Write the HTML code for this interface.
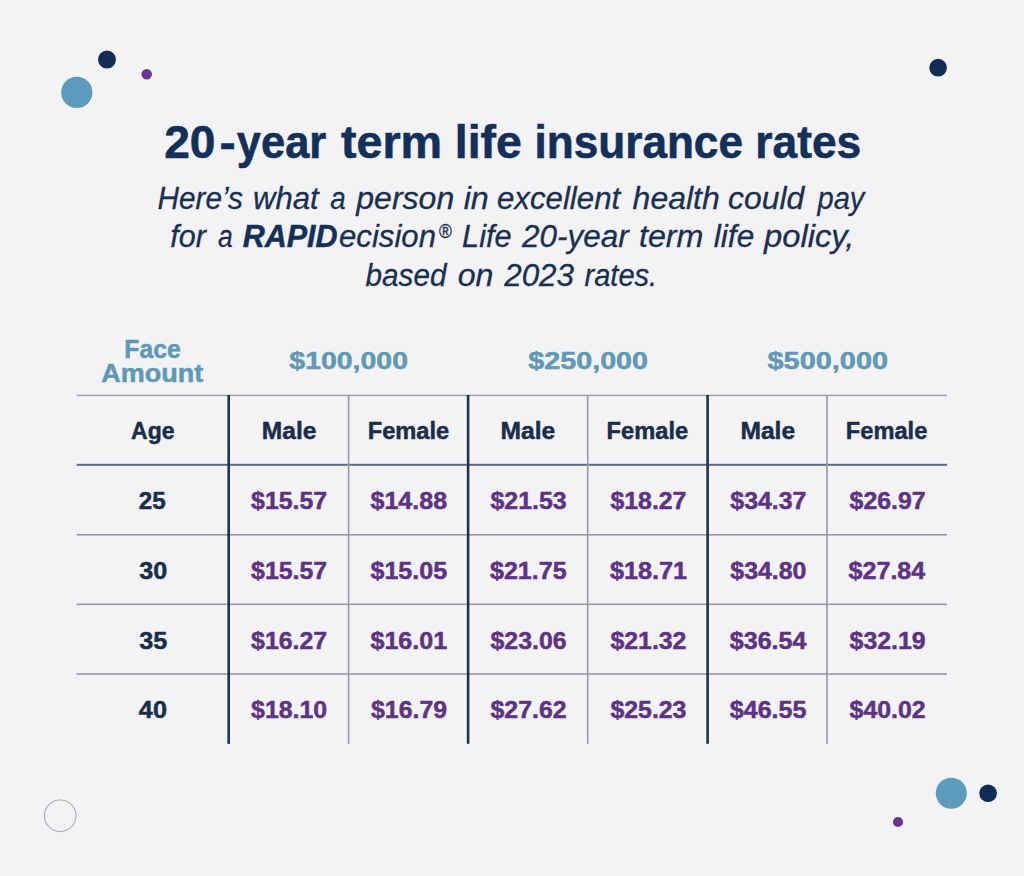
<!DOCTYPE html>
<html>
<head>
<meta charset="utf-8">
<title>20-year term life insurance rates</title>
<style>
html,body{margin:0;padding:0;background:#f3f3f6;}
body{width:1024px;height:876px;overflow:hidden;}
svg{display:block;}
text{font-family:"Liberation Sans",sans-serif;white-space:pre;}
</style>
</head>
<body>
<svg width="1024" height="876" viewBox="0 0 1024 876">
<rect x="0" y="0" width="1024" height="876" fill="#f3f3f6"/>
<circle cx="107" cy="59.6" r="9" fill="#102d58"/>
<circle cx="76.8" cy="92.4" r="15.6" fill="#5c9bbb"/>
<circle cx="146.7" cy="74.2" r="5.3" fill="#6a3794"/>
<circle cx="938.1" cy="67.7" r="8.85" fill="#102d58"/>
<circle cx="951.3" cy="793.3" r="15.5" fill="#5c9bbb"/>
<circle cx="988.1" cy="793.3" r="8.8" fill="#102d58"/>
<circle cx="898" cy="822" r="5.1" fill="#6a3794"/>
<circle cx="60.2" cy="815.8" r="15.8" fill="none" stroke="#a9acb0" stroke-width="1.1"/>
<rect x="76.7" y="394.7" width="870.3" height="1.4" fill="#9a9ea6"/>
<rect x="76.7" y="463.8" width="870.3" height="2" fill="#5f6b7a"/>
<rect x="76.7" y="534" width="870.3" height="1.6" fill="#959ba4"/>
<rect x="76.7" y="603.5" width="870.3" height="1.6" fill="#959ba4"/>
<rect x="76.7" y="673.2" width="870.3" height="1.6" fill="#959ba4"/>
<rect x="347.8" y="395" width="1.6" height="348.8" fill="#959ba4"/>
<rect x="586.9" y="395" width="1.6" height="348.8" fill="#959ba4"/>
<rect x="826.2" y="395" width="1.6" height="348.8" fill="#959ba4"/>
<rect x="227.4" y="395" width="2.6" height="348.8" fill="#1e3150"/>
<rect x="466.8" y="395" width="2.6" height="348.8" fill="#1e3150"/>
<rect x="706.3" y="395" width="2.6" height="348.8" fill="#1e3150"/>

<text x="164.17" y="157.90" font-size="45.5" fill="#13305a" font-weight="bold" stroke="#13305a" stroke-width="0.6" stroke-linejoin="round" textLength="51.25" lengthAdjust="spacingAndGlyphs">20</text>
<text x="219.53" y="157.90" font-size="45.5" fill="#13305a" font-weight="bold" stroke="#13305a" stroke-width="0.6" stroke-linejoin="round" textLength="16.21" lengthAdjust="spacingAndGlyphs">-</text>
<text x="236.80" y="157.90" font-size="45.5" fill="#13305a" font-weight="bold" stroke="#13305a" stroke-width="0.6" stroke-linejoin="round" textLength="89.44" lengthAdjust="spacingAndGlyphs">year</text>
<text x="340.90" y="157.90" font-size="45.5" fill="#13305a" font-weight="bold" stroke="#13305a" stroke-width="0.6" stroke-linejoin="round" textLength="101.27" lengthAdjust="spacingAndGlyphs">term</text>
<text x="454.83" y="157.90" font-size="45.5" fill="#13305a" font-weight="bold" stroke="#13305a" stroke-width="0.6" stroke-linejoin="round" textLength="67.02" lengthAdjust="spacingAndGlyphs">life</text>
<text x="534.56" y="157.90" font-size="45.5" fill="#13305a" font-weight="bold" stroke="#13305a" stroke-width="0.6" stroke-linejoin="round" textLength="208.39" lengthAdjust="spacingAndGlyphs">insurance</text>
<text x="755.36" y="157.90" font-size="45.5" fill="#13305a" font-weight="bold" stroke="#13305a" stroke-width="0.6" stroke-linejoin="round" textLength="105.91" lengthAdjust="spacingAndGlyphs">rates</text>
<text x="157.40" y="208.70" font-size="31" fill="#1b2f52" font-style="italic" stroke="#1b2f52" stroke-width="0.3" stroke-linejoin="round" textLength="85.53" lengthAdjust="spacingAndGlyphs">Here’s</text>
<text x="252.98" y="208.70" font-size="31" fill="#1b2f52" font-style="italic" stroke="#1b2f52" stroke-width="0.3" stroke-linejoin="round" textLength="65.69" lengthAdjust="spacingAndGlyphs">what</text>
<text x="330.20" y="208.70" font-size="31" fill="#1b2f52" font-style="italic" stroke="#1b2f52" stroke-width="0.3" stroke-linejoin="round" textLength="15.45" lengthAdjust="spacingAndGlyphs">a</text>
<text x="356.25" y="208.70" font-size="31" fill="#1b2f52" font-style="italic" stroke="#1b2f52" stroke-width="0.3" stroke-linejoin="round" textLength="97.96" lengthAdjust="spacingAndGlyphs">person</text>
<text x="463.70" y="208.70" font-size="31" fill="#1b2f52" font-style="italic" stroke="#1b2f52" stroke-width="0.3" stroke-linejoin="round" textLength="25.10" lengthAdjust="spacingAndGlyphs">in</text>
<text x="496.90" y="208.70" font-size="31" fill="#1b2f52" font-style="italic" stroke="#1b2f52" stroke-width="0.3" stroke-linejoin="round" textLength="123.35" lengthAdjust="spacingAndGlyphs">excellent</text>
<text x="632.60" y="208.70" font-size="31" fill="#1b2f52" font-style="italic" stroke="#1b2f52" stroke-width="0.3" stroke-linejoin="round" textLength="87.18" lengthAdjust="spacingAndGlyphs">health</text>
<text x="728.10" y="208.70" font-size="31" fill="#1b2f52" font-style="italic" stroke="#1b2f52" stroke-width="0.3" stroke-linejoin="round" textLength="76.27" lengthAdjust="spacingAndGlyphs">could</text>
<text x="817.47" y="208.70" font-size="31" fill="#1b2f52" font-style="italic" stroke="#1b2f52" stroke-width="0.3" stroke-linejoin="round" textLength="46.84" lengthAdjust="spacingAndGlyphs">pay</text>
<text x="170.20" y="247.00" font-size="31" fill="#1b2f52" font-style="italic" stroke="#1b2f52" stroke-width="0.3" stroke-linejoin="round" textLength="35.71" lengthAdjust="spacingAndGlyphs">for</text>
<text x="218.00" y="247.00" font-size="31" fill="#1b2f52" font-style="italic" stroke="#1b2f52" stroke-width="0.3" stroke-linejoin="round" textLength="14.71" lengthAdjust="spacingAndGlyphs">a</text>
<text x="462.10" y="247.00" font-size="31" fill="#1b2f52" font-style="italic" stroke="#1b2f52" stroke-width="0.3" stroke-linejoin="round" textLength="49.48" lengthAdjust="spacingAndGlyphs">Life</text>
<text x="522.01" y="247.00" font-size="31" fill="#1b2f52" font-style="italic" stroke="#1b2f52" stroke-width="0.3" stroke-linejoin="round" textLength="106.68" lengthAdjust="spacingAndGlyphs">20-year</text>
<text x="638.96" y="247.00" font-size="31" fill="#1b2f52" font-style="italic" stroke="#1b2f52" stroke-width="0.3" stroke-linejoin="round" textLength="64.54" lengthAdjust="spacingAndGlyphs">term</text>
<text x="713.80" y="247.00" font-size="31" fill="#1b2f52" font-style="italic" stroke="#1b2f52" stroke-width="0.3" stroke-linejoin="round" textLength="40.45" lengthAdjust="spacingAndGlyphs">life</text>
<text x="763.98" y="247.00" font-size="31" fill="#1b2f52" font-style="italic" stroke="#1b2f52" stroke-width="0.3" stroke-linejoin="round" textLength="90.42" lengthAdjust="spacingAndGlyphs">policy,</text>
<text x="242.70" y="247.00" font-size="31" fill="#13305a" font-weight="bold" font-style="italic" stroke="#13305a" stroke-width="0.5" stroke-linejoin="round" textLength="94.86" lengthAdjust="spacingAndGlyphs">RAPID</text>
<text x="339.00" y="247.00" font-size="31" fill="#1b2f52" font-style="italic" stroke="#1b2f52" stroke-width="0.3" stroke-linejoin="round" textLength="97.00" lengthAdjust="spacingAndGlyphs">ecision</text>
<text x="439.07" y="237.60" font-size="20" fill="#1b2f52" stroke="#1b2f52" stroke-width="0.35" stroke-linejoin="round" textLength="12.81" lengthAdjust="spacingAndGlyphs">®</text>
<text x="365.50" y="286.00" font-size="31" fill="#1b2f52" font-style="italic" stroke="#1b2f52" stroke-width="0.3" stroke-linejoin="round" textLength="81.03" lengthAdjust="spacingAndGlyphs">based</text>
<text x="457.70" y="286.00" font-size="31" fill="#1b2f52" font-style="italic" stroke="#1b2f52" stroke-width="0.3" stroke-linejoin="round" textLength="35.80" lengthAdjust="spacingAndGlyphs">on</text>
<text x="504.21" y="286.00" font-size="31" fill="#1b2f52" font-style="italic" stroke="#1b2f52" stroke-width="0.3" stroke-linejoin="round" textLength="69.84" lengthAdjust="spacingAndGlyphs">2023</text>
<text x="584.50" y="286.00" font-size="31" fill="#1b2f52" font-style="italic" stroke="#1b2f52" stroke-width="0.3" stroke-linejoin="round" textLength="72.67" lengthAdjust="spacingAndGlyphs">rates.</text>
<text x="124.30" y="358.40" font-size="25" fill="#5f99b6" font-weight="bold" stroke="#5f99b6" stroke-width="0.5" stroke-linejoin="round" textLength="56.39" lengthAdjust="spacingAndGlyphs">Face</text>
<text x="101.25" y="381.60" font-size="25" fill="#5f99b6" font-weight="bold" stroke="#5f99b6" stroke-width="0.5" stroke-linejoin="round" textLength="101.88" lengthAdjust="spacingAndGlyphs">Amount</text>
<text x="289.30" y="369.40" font-size="24" fill="#5f99b6" font-weight="bold" stroke="#5f99b6" stroke-width="0.5" stroke-linejoin="round" textLength="118.73" lengthAdjust="spacingAndGlyphs">$100,000</text>
<text x="528.30" y="369.40" font-size="24" fill="#5f99b6" font-weight="bold" stroke="#5f99b6" stroke-width="0.5" stroke-linejoin="round" textLength="119.73" lengthAdjust="spacingAndGlyphs">$250,000</text>
<text x="767.50" y="369.40" font-size="24" fill="#5f99b6" font-weight="bold" stroke="#5f99b6" stroke-width="0.5" stroke-linejoin="round" textLength="120.54" lengthAdjust="spacingAndGlyphs">$500,000</text>
<text x="131.10" y="438.90" font-size="24" fill="#1a2e4c" font-weight="bold" stroke="#1a2e4c" stroke-width="0.5" stroke-linejoin="round" textLength="43.37" lengthAdjust="spacingAndGlyphs">Age</text>
<text x="261.73" y="438.80" font-size="24" fill="#1a2e4c" font-weight="bold" stroke="#1a2e4c" stroke-width="0.5" stroke-linejoin="round" textLength="54.67" lengthAdjust="spacingAndGlyphs">Male</text>
<text x="367.71" y="438.80" font-size="24" fill="#1a2e4c" font-weight="bold" stroke="#1a2e4c" stroke-width="0.5" stroke-linejoin="round" textLength="81.51" lengthAdjust="spacingAndGlyphs">Female</text>
<text x="500.63" y="438.80" font-size="24" fill="#1a2e4c" font-weight="bold" stroke="#1a2e4c" stroke-width="0.5" stroke-linejoin="round" textLength="54.67" lengthAdjust="spacingAndGlyphs">Male</text>
<text x="606.61" y="438.80" font-size="24" fill="#1a2e4c" font-weight="bold" stroke="#1a2e4c" stroke-width="0.5" stroke-linejoin="round" textLength="81.51" lengthAdjust="spacingAndGlyphs">Female</text>
<text x="740.43" y="438.80" font-size="24" fill="#1a2e4c" font-weight="bold" stroke="#1a2e4c" stroke-width="0.5" stroke-linejoin="round" textLength="54.67" lengthAdjust="spacingAndGlyphs">Male</text>
<text x="845.81" y="438.80" font-size="24" fill="#1a2e4c" font-weight="bold" stroke="#1a2e4c" stroke-width="0.5" stroke-linejoin="round" textLength="81.51" lengthAdjust="spacingAndGlyphs">Female</text>
<text x="138.86" y="509.30" font-size="24" fill="#1a2e4c" font-weight="bold" stroke="#1a2e4c" stroke-width="0.5" stroke-linejoin="round" textLength="26.89" lengthAdjust="spacingAndGlyphs">25</text>
<text x="251.14" y="509.30" font-size="24" fill="#5f3384" font-weight="bold" stroke="#5f3384" stroke-width="0.5" stroke-linejoin="round" textLength="75.98" lengthAdjust="spacingAndGlyphs">$15.57</text>
<text x="370.52" y="509.30" font-size="24" fill="#5f3384" font-weight="bold" stroke="#5f3384" stroke-width="0.5" stroke-linejoin="round" textLength="76.59" lengthAdjust="spacingAndGlyphs">$14.88</text>
<text x="490.54" y="509.30" font-size="24" fill="#5f3384" font-weight="bold" stroke="#5f3384" stroke-width="0.5" stroke-linejoin="round" textLength="75.98" lengthAdjust="spacingAndGlyphs">$21.53</text>
<text x="610.44" y="509.30" font-size="24" fill="#5f3384" font-weight="bold" stroke="#5f3384" stroke-width="0.5" stroke-linejoin="round" textLength="75.98" lengthAdjust="spacingAndGlyphs">$18.27</text>
<text x="730.34" y="509.30" font-size="24" fill="#5f3384" font-weight="bold" stroke="#5f3384" stroke-width="0.5" stroke-linejoin="round" textLength="75.98" lengthAdjust="spacingAndGlyphs">$34.37</text>
<text x="849.64" y="509.30" font-size="24" fill="#5f3384" font-weight="bold" stroke="#5f3384" stroke-width="0.5" stroke-linejoin="round" textLength="75.98" lengthAdjust="spacingAndGlyphs">$26.97</text>
<text x="139.36" y="578.97" font-size="24" fill="#1a2e4c" font-weight="bold" stroke="#1a2e4c" stroke-width="0.5" stroke-linejoin="round" textLength="27.97" lengthAdjust="spacingAndGlyphs">30</text>
<text x="251.14" y="578.97" font-size="24" fill="#5f3384" font-weight="bold" stroke="#5f3384" stroke-width="0.5" stroke-linejoin="round" textLength="75.98" lengthAdjust="spacingAndGlyphs">$15.57</text>
<text x="370.52" y="578.97" font-size="24" fill="#5f3384" font-weight="bold" stroke="#5f3384" stroke-width="0.5" stroke-linejoin="round" textLength="76.59" lengthAdjust="spacingAndGlyphs">$15.05</text>
<text x="490.02" y="578.97" font-size="24" fill="#5f3384" font-weight="bold" stroke="#5f3384" stroke-width="0.5" stroke-linejoin="round" textLength="76.59" lengthAdjust="spacingAndGlyphs">$21.75</text>
<text x="609.92" y="578.97" font-size="24" fill="#5f3384" font-weight="bold" stroke="#5f3384" stroke-width="0.5" stroke-linejoin="round" textLength="77.21" lengthAdjust="spacingAndGlyphs">$18.71</text>
<text x="730.34" y="578.97" font-size="24" fill="#5f3384" font-weight="bold" stroke="#5f3384" stroke-width="0.5" stroke-linejoin="round" textLength="75.98" lengthAdjust="spacingAndGlyphs">$34.80</text>
<text x="848.62" y="578.97" font-size="24" fill="#5f3384" font-weight="bold" stroke="#5f3384" stroke-width="0.5" stroke-linejoin="round" textLength="76.59" lengthAdjust="spacingAndGlyphs">$27.84</text>
<text x="139.36" y="648.64" font-size="24" fill="#1a2e4c" font-weight="bold" stroke="#1a2e4c" stroke-width="0.5" stroke-linejoin="round" textLength="27.97" lengthAdjust="spacingAndGlyphs">35</text>
<text x="251.14" y="648.64" font-size="24" fill="#5f3384" font-weight="bold" stroke="#5f3384" stroke-width="0.5" stroke-linejoin="round" textLength="75.98" lengthAdjust="spacingAndGlyphs">$16.27</text>
<text x="370.52" y="648.64" font-size="24" fill="#5f3384" font-weight="bold" stroke="#5f3384" stroke-width="0.5" stroke-linejoin="round" textLength="76.59" lengthAdjust="spacingAndGlyphs">$16.01</text>
<text x="490.54" y="648.64" font-size="24" fill="#5f3384" font-weight="bold" stroke="#5f3384" stroke-width="0.5" stroke-linejoin="round" textLength="75.98" lengthAdjust="spacingAndGlyphs">$23.06</text>
<text x="610.44" y="648.64" font-size="24" fill="#5f3384" font-weight="bold" stroke="#5f3384" stroke-width="0.5" stroke-linejoin="round" textLength="75.98" lengthAdjust="spacingAndGlyphs">$21.32</text>
<text x="729.82" y="648.64" font-size="24" fill="#5f3384" font-weight="bold" stroke="#5f3384" stroke-width="0.5" stroke-linejoin="round" textLength="76.59" lengthAdjust="spacingAndGlyphs">$36.54</text>
<text x="849.64" y="648.64" font-size="24" fill="#5f3384" font-weight="bold" stroke="#5f3384" stroke-width="0.5" stroke-linejoin="round" textLength="75.98" lengthAdjust="spacingAndGlyphs">$32.19</text>
<text x="138.88" y="718.31" font-size="24" fill="#1a2e4c" font-weight="bold" stroke="#1a2e4c" stroke-width="0.5" stroke-linejoin="round" textLength="28.03" lengthAdjust="spacingAndGlyphs">40</text>
<text x="251.14" y="718.31" font-size="24" fill="#5f3384" font-weight="bold" stroke="#5f3384" stroke-width="0.5" stroke-linejoin="round" textLength="75.98" lengthAdjust="spacingAndGlyphs">$18.10</text>
<text x="371.04" y="718.31" font-size="24" fill="#5f3384" font-weight="bold" stroke="#5f3384" stroke-width="0.5" stroke-linejoin="round" textLength="75.98" lengthAdjust="spacingAndGlyphs">$16.79</text>
<text x="490.54" y="718.31" font-size="24" fill="#5f3384" font-weight="bold" stroke="#5f3384" stroke-width="0.5" stroke-linejoin="round" textLength="75.98" lengthAdjust="spacingAndGlyphs">$27.62</text>
<text x="610.44" y="718.31" font-size="24" fill="#5f3384" font-weight="bold" stroke="#5f3384" stroke-width="0.5" stroke-linejoin="round" textLength="75.98" lengthAdjust="spacingAndGlyphs">$25.23</text>
<text x="729.82" y="718.31" font-size="24" fill="#5f3384" font-weight="bold" stroke="#5f3384" stroke-width="0.5" stroke-linejoin="round" textLength="76.59" lengthAdjust="spacingAndGlyphs">$46.55</text>
<text x="849.64" y="718.31" font-size="24" fill="#5f3384" font-weight="bold" stroke="#5f3384" stroke-width="0.5" stroke-linejoin="round" textLength="75.98" lengthAdjust="spacingAndGlyphs">$40.02</text>
</svg>
</body>
</html>
